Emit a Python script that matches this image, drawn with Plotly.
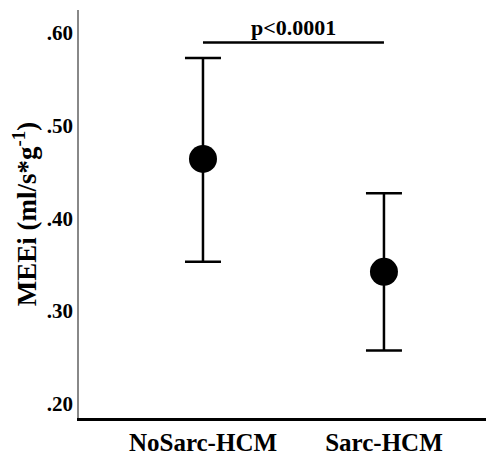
import plotly.graph_objects as go

groups = ["NoSarc-HCM", "Sarc-HCM"]
means = [0.464, 0.342]
upper = [0.573, 0.427]
lower = [0.353, 0.257]
ytick_vals = [0.20, 0.30, 0.40, 0.50, 0.60]
ytick_text = [".20", ".30", ".40", ".50", ".60"]
sig_text = "p<0.0001"
sig_y = 0.590

xpos = list(range(len(groups)))
err_plus = [u - m for u, m in zip(upper, means)]
err_minus = [m - l for m, l in zip(means, lower)]

FONT = "Liberation Serif, Times New Roman, serif"

fig = go.Figure()
fig.add_trace(go.Scatter(
    x=xpos, y=means, mode="markers",
    marker=dict(size=28, color="black"),
    error_y=dict(type="data", symmetric=False, array=err_plus, arrayminus=err_minus,
                 color="black", thickness=2.5, width=18),
    showlegend=False,
))
fig.add_shape(type="line", x0=xpos[0], x1=xpos[1], y0=sig_y, y1=sig_y,
              xref="x", yref="y", line=dict(color="black", width=2.5))
fig.add_annotation(x=(xpos[0] + xpos[1]) / 2, y=sig_y, xref="x", yref="y",
                   text="<b>" + sig_text + "</b>", showarrow=False, yanchor="bottom",
                   yshift=0, font=dict(family=FONT, size=22, color="black"))

fig.update_layout(
    width=486, height=448,
    margin=dict(l=71, r=0, t=2, b=38),
    plot_bgcolor="white", paper_bgcolor="white",
    font=dict(family=FONT, color="black"),
    xaxis=dict(range=[-0.685, 1.608], tickvals=xpos,
               ticktext=["<b>" + g + "</b>" for g in groups],
               tickfont=dict(family=FONT, size=25, color="black"),
               showgrid=False, zeroline=False, showline=True, linecolor="black",
               linewidth=2.5, ticks="", automargin=False),
    yaxis=dict(range=[0.184, 0.625], tickvals=ytick_vals,
               ticktext=["<b>" + t + "</b>" for t in ytick_text],
               tickfont=dict(family=FONT, size=21, color="black"),
               showgrid=False, zeroline=False, showline=True, linecolor="#888888",
               linewidth=1.5, ticks="", automargin=False,
               title=dict(text="<b>MEEi (ml/s*g<sup>-1</sup>)</b>",
                          font=dict(family=FONT, size=27, color="black"), standoff=8)),
)

fig.write_html("out.html")
